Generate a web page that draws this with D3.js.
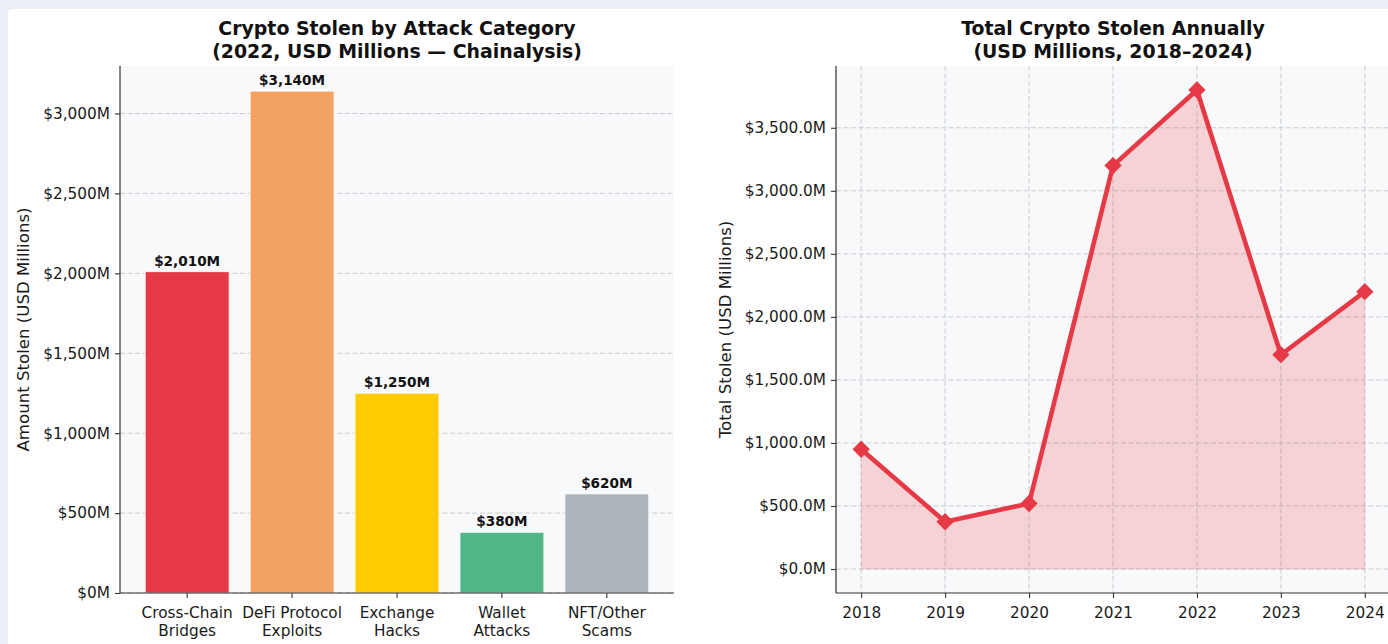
<!DOCTYPE html>
<html>
<head>
<meta charset="utf-8">
<script src="https://cdn.jsdelivr.net/npm/d3@7"></script>
<style>
  html, body { margin: 0; padding: 0; background: #e9eef7; }
  svg { display: block; font-family: "DejaVu Sans", sans-serif; }
</style>
</head>
<body>
<svg id="chart" width="1388" height="644"></svg>
<script>
// ---- data ----
const categories = ["Cross-Chain\nBridges", "DeFi Protocol\nExploits", "Exchange\nHacks", "Wallet\nAttacks", "NFT/Other\nScams"];
const categoryValues = [2010, 3140, 1250, 380, 620];
const categoryTicks = [0, 500, 1000, 1500, 2000, 2500, 3000];

const years = [2018, 2019, 2020, 2021, 2022, 2023, 2024];
const yearTotals = [950, 375, 520, 3200, 3800, 1700, 2200];
const totalTicks = [0, 500, 1000, 1500, 2000, 2500, 3000, 3500];

// ---- palette ----
const barColors = ["#e63946", "#f4a261", "#ffca00", "#52b788", "#adb5bd"];
const lineColor = "#e63946";
const plotBg = "#f8f9fa";
const spineColor = "#333333";
const textColor = "#1a1a1a";

const svg = d3.select("#chart");

// white card behind both panels
svg.append("rect")
  .attr("x", 8).attr("y", 9)
  .attr("width", 1400).attr("height", 660)
  .attr("rx", 4)
  .attr("fill", "#ffffff");

const fmtMoney = d3.format(",");
const fmtMoney1 = d3.format(",.1f");

function styleAxis(g) {
  g.selectAll(".domain").attr("stroke", spineColor).attr("stroke-width", 1.2);
  g.selectAll(".tick line").attr("stroke", spineColor).attr("stroke-width", 1.1);
  g.selectAll(".tick text")
    .attr("fill", textColor)
    .style("font-family", "'DejaVu Sans', sans-serif")
    .style("font-size", "15.3px");
}

// ================= left panel: bars by category =================
const L = { x0: 120, x1: 674, y0: 66, y1: 593 };

const xBand = d3.scaleBand()
  .domain(categories)
  .range([L.x0, L.x1])
  .paddingInner(0.2)
  .paddingOuter(0.24);

const yLeft = d3.scaleLinear()
  .domain([0, d3.max(categoryValues) * 1.05])
  .range([L.y1, L.y0]);

const left = svg.append("g");

left.append("rect")
  .attr("x", L.x0).attr("y", L.y0)
  .attr("width", L.x1 - L.x0).attr("height", L.y1 - L.y0)
  .attr("fill", plotBg);

// horizontal grid
left.append("g")
  .selectAll("line")
  .data(categoryTicks)
  .join("line")
  .attr("x1", L.x0).attr("x2", L.x1)
  .attr("y1", d => yLeft(d)).attr("y2", d => yLeft(d))
  .attr("stroke", "#c9ccd0")
  .attr("stroke-width", 1)
  .attr("stroke-dasharray", "5,2.5");

// bars
left.append("g")
  .selectAll("rect")
  .data(categories)
  .join("rect")
  .attr("x", d => xBand(d))
  .attr("width", xBand.bandwidth())
  .attr("y", (d, i) => yLeft(categoryValues[i]))
  .attr("height", (d, i) => yLeft(0) - yLeft(categoryValues[i]))
  .attr("fill", (d, i) => barColors[i])
  .attr("stroke", "#ffffff")
  .attr("stroke-width", 0.8);

// value labels
left.append("g")
  .selectAll("text")
  .data(categories)
  .join("text")
  .attr("x", d => xBand(d) + xBand.bandwidth() / 2)
  .attr("y", (d, i) => yLeft(categoryValues[i]) - 6)
  .attr("text-anchor", "middle")
  .attr("font-size", "13.6px")
  .attr("font-weight", "bold")
  .attr("fill", "#111")
  .text((d, i) => "$" + fmtMoney(categoryValues[i]) + "M");

// axes
const yAxisL = left.append("g")
  .attr("transform", `translate(${L.x0},0)`)
  .call(d3.axisLeft(yLeft)
    .tickValues(categoryTicks)
    .tickFormat(d => "$" + fmtMoney(d) + "M")
    .tickSize(5).tickSizeOuter(0).tickPadding(5));
styleAxis(yAxisL);
yAxisL.select(".domain").attr("d", `M0,${L.y1}V${L.y0}`);

const xAxisL = left.append("g")
  .attr("transform", `translate(0,${L.y1})`)
  .call(d3.axisBottom(xBand).tickSize(5).tickSizeOuter(0).tickPadding(5));
styleAxis(xAxisL);
xAxisL.select(".domain").attr("d", `M${L.x0},0H${L.x1}`);
xAxisL.selectAll(".tick text").each(function (d) {
  const t = d3.select(this);
  const lines = d.split("\n");
  t.text(null).attr("y", 0).attr("dy", null);
  lines.forEach((ln, k) => {
    t.append("tspan")
      .attr("x", 0)
      .attr("y", 24.5 + k * 18.4)
      .text(ln);
  });
});

left.append("text")
  .attr("transform", `translate(29,${(L.y0 + L.y1) / 2}) rotate(-90)`)
  .attr("text-anchor", "middle")
  .attr("font-size", "16.6px")
  .attr("fill", textColor)
  .text("Amount Stolen (USD Millions)");

const titleL = left.append("text")
  .attr("text-anchor", "middle")
  .attr("font-size", "18.9px")
  .attr("font-weight", "bold")
  .attr("fill", "#111");
titleL.append("tspan").attr("x", (L.x0 + L.x1) / 2).attr("y", 35).text("Crypto Stolen by Attack Category");
titleL.append("tspan").attr("x", (L.x0 + L.x1) / 2).attr("y", 57.5).text("(2022, USD Millions \u2014 Chainalysis)");

// ================= right panel: annual totals =================
const R = { x0: 836, x1: 1390, y0: 66, y1: 593 };

const xYear = d3.scaleLinear()
  .domain([2017.7, 2024.3])
  .range([R.x0, R.x1]);

const yRight = d3.scaleLinear()
  .domain([-190, 3990])
  .range([R.y1, R.y0]);

const right = svg.append("g");

right.append("rect")
  .attr("x", R.x0).attr("y", R.y0)
  .attr("width", R.x1 - R.x0).attr("height", R.y1 - R.y0)
  .attr("fill", plotBg);

// grid both ways
right.append("g")
  .selectAll("line")
  .data(totalTicks)
  .join("line")
  .attr("x1", R.x0).attr("x2", R.x1)
  .attr("y1", d => yRight(d)).attr("y2", d => yRight(d))
  .attr("stroke", "#c9ccd0")
  .attr("stroke-width", 1)
  .attr("stroke-dasharray", "5,2.5");
right.append("g")
  .selectAll("line")
  .data(years)
  .join("line")
  .attr("x1", d => xYear(d)).attr("x2", d => xYear(d))
  .attr("y1", R.y0).attr("y2", R.y1)
  .attr("stroke", "#c9ccd0")
  .attr("stroke-width", 1)
  .attr("stroke-dasharray", "5,2.5");

const series = years.map((yr, i) => ({ yr, v: yearTotals[i] }));

right.append("path")
  .datum(series)
  .attr("d", d3.area().x(d => xYear(d.yr)).y0(yRight(0)).y1(d => yRight(d.v)))
  .attr("fill", lineColor)
  .attr("fill-opacity", 0.2)
  .attr("stroke", lineColor)
  .attr("stroke-opacity", 0.12)
  .attr("stroke-width", 1);

right.append("path")
  .datum(series)
  .attr("d", d3.line().x(d => xYear(d.yr)).y(d => yRight(d.v)))
  .attr("fill", "none")
  .attr("stroke", lineColor)
  .attr("stroke-width", 4.6)
  .attr("stroke-linejoin", "round");

right.append("g")
  .selectAll("path")
  .data(series)
  .join("path")
  .attr("d", d3.symbol().type(d3.symbolSquare).size(150))
  .attr("transform", d => `translate(${xYear(d.yr)},${yRight(d.v)}) rotate(45)`)
  .attr("fill", lineColor);

const yAxisR = right.append("g")
  .attr("transform", `translate(${R.x0},0)`)
  .call(d3.axisLeft(yRight)
    .tickValues(totalTicks)
    .tickFormat(d => "$" + fmtMoney1(d) + "M")
    .tickSize(5).tickSizeOuter(0).tickPadding(5));
styleAxis(yAxisR);
yAxisR.select(".domain").attr("d", `M0,${R.y1}V${R.y0}`);

const xAxisR = right.append("g")
  .attr("transform", `translate(0,${R.y1})`)
  .call(d3.axisBottom(xYear)
    .tickValues(years)
    .tickFormat(d3.format("d"))
    .tickSize(5).tickSizeOuter(0).tickPadding(5));
styleAxis(xAxisR);
xAxisR.select(".domain").attr("d", `M${R.x0},0H${R.x1}`);
xAxisR.selectAll(".tick text").attr("y", 24.5).attr("dy", null);

right.append("text")
  .attr("transform", `translate(731,${(R.y0 + R.y1) / 2}) rotate(-90)`)
  .attr("text-anchor", "middle")
  .attr("font-size", "16.6px")
  .attr("fill", textColor)
  .text("Total Stolen (USD Millions)");

const titleR = right.append("text")
  .attr("text-anchor", "middle")
  .attr("font-size", "18.9px")
  .attr("font-weight", "bold")
  .attr("fill", "#111");
titleR.append("tspan").attr("x", (R.x0 + R.x1) / 2).attr("y", 35).text("Total Crypto Stolen Annually");
titleR.append("tspan").attr("x", (R.x0 + R.x1) / 2).attr("y", 57.5).text("(USD Millions, 2018\u20132024)");
</script>
</body>
</html>
